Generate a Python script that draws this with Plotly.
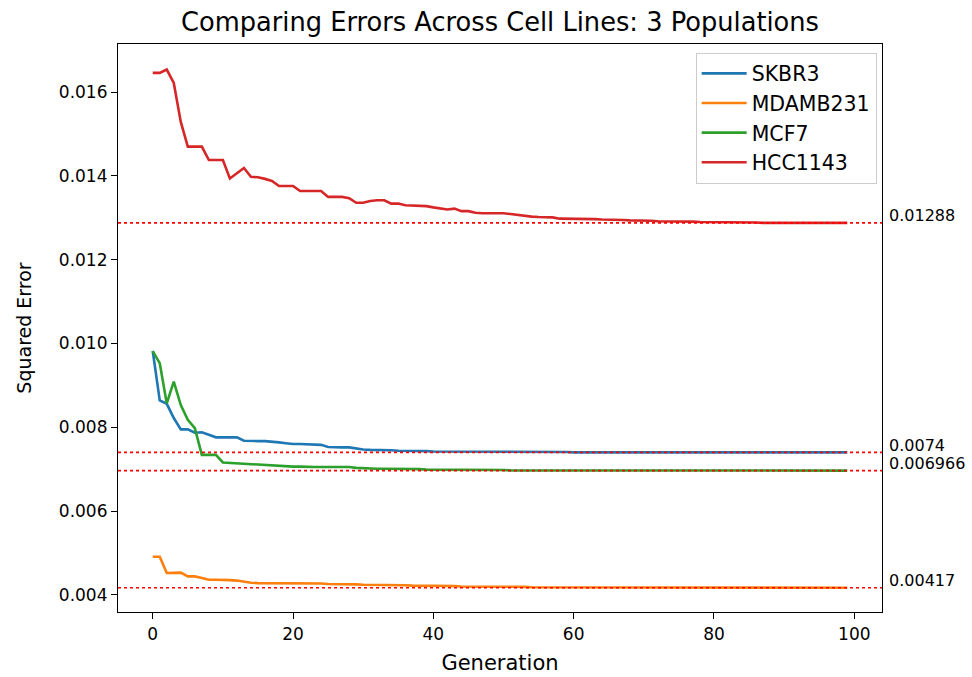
import plotly.graph_objects as go

generations = list(range(100))

skbr3 = [
    0.00982, 0.00864, 0.00856, 0.00822, 0.00795, 0.00795, 0.00787, 0.00788, 0.00782, 0.00776,
    0.00776, 0.00776, 0.00776, 0.00768, 0.00767, 0.00767, 0.00767, 0.00766, 0.00764, 0.00762,
    0.00760, 0.00760, 0.00759, 0.00758, 0.00758, 0.00753, 0.00752, 0.00752, 0.00752, 0.00749,
    0.00747, 0.00746, 0.00746, 0.00745, 0.00745, 0.00744, 0.00744, 0.00743, 0.00743, 0.00743,
    0.00742, 0.00742, 0.00742, 0.00742, 0.00742, 0.00741, 0.00741, 0.00741, 0.00741, 0.00741,
    0.00741, 0.00741, 0.00741, 0.00741, 0.00741, 0.00741, 0.00741, 0.00741, 0.00741, 0.00741,
    0.00740, 0.00740, 0.00740, 0.00740, 0.00740, 0.00740, 0.00740, 0.00740, 0.00740, 0.00740,
    0.00740, 0.00740, 0.00740, 0.00740, 0.00740, 0.00740, 0.00740, 0.00740, 0.00740, 0.00740,
    0.00740, 0.00740, 0.00740, 0.00740, 0.00740, 0.00740, 0.00740, 0.00740, 0.00740, 0.00740,
    0.00740, 0.00740, 0.00740, 0.00740, 0.00740, 0.00740, 0.00740, 0.00740, 0.00740, 0.00740,
]

mdamb231 = [
    0.00491, 0.00491, 0.00452, 0.00452, 0.00453, 0.00444, 0.00444, 0.00440, 0.00436, 0.00436,
    0.00436, 0.00435, 0.00434, 0.00431, 0.00429, 0.00428, 0.00428, 0.00428, 0.00428, 0.00428,
    0.00428, 0.00427, 0.00427, 0.00427, 0.00427, 0.00426, 0.00426, 0.00426, 0.00425, 0.00425,
    0.00424, 0.00424, 0.00424, 0.00423, 0.00423, 0.00423, 0.00423, 0.00422, 0.00422, 0.00422,
    0.00421, 0.00421, 0.00421, 0.00421, 0.00420, 0.00420, 0.00420, 0.00419, 0.00419, 0.00419,
    0.00419, 0.00419, 0.00419, 0.00419, 0.00418, 0.00418, 0.00418, 0.00418, 0.00418, 0.00418,
    0.00418, 0.00418, 0.00418, 0.00418, 0.00418, 0.00418, 0.00418, 0.00418, 0.00418, 0.00418,
    0.00417, 0.00417, 0.00417, 0.00417, 0.00417, 0.00417, 0.00417, 0.00417, 0.00417, 0.00417,
    0.00417, 0.00417, 0.00417, 0.00417, 0.00417, 0.00417, 0.00417, 0.00417, 0.00417, 0.00417,
    0.00417, 0.00417, 0.00417, 0.00417, 0.00417, 0.00417, 0.00417, 0.00417, 0.00417, 0.00417,
]

mcf7 = [
    0.00982, 0.00953, 0.00857, 0.00909, 0.00853, 0.00818, 0.00798, 0.00734, 0.00734, 0.00734,
    0.00716, 0.00715, 0.00714, 0.00712, 0.00711, 0.00710, 0.00709, 0.00708, 0.00707, 0.00707,
    0.00706, 0.00706, 0.00705, 0.00705, 0.00705, 0.00705, 0.00705, 0.00705, 0.00705, 0.00703,
    0.00702, 0.00702, 0.00701, 0.00701, 0.00701, 0.00700, 0.00700, 0.00700, 0.00700, 0.00699,
    0.00699, 0.00699, 0.00699, 0.00699, 0.00698, 0.00698, 0.00698, 0.00698, 0.00698, 0.00698,
    0.00698, 0.00697, 0.00697, 0.00697, 0.00697, 0.00697, 0.00697, 0.00697, 0.00697, 0.00697,
    0.006966, 0.006966, 0.006966, 0.006966, 0.006966, 0.006966, 0.006966, 0.006966, 0.006966, 0.006966,
    0.006966, 0.006966, 0.006966, 0.006966, 0.006966, 0.006966, 0.006966, 0.006966, 0.006966, 0.006966,
    0.006966, 0.006966, 0.006966, 0.006966, 0.006966, 0.006966, 0.006966, 0.006966, 0.006966, 0.006966,
    0.006966, 0.006966, 0.006966, 0.006966, 0.006966, 0.006966, 0.006966, 0.006966, 0.006966, 0.006966,
]

hcc1143 = [
    0.01646, 0.01646, 0.01654, 0.01622, 0.01529, 0.01470, 0.01470, 0.01470, 0.01438, 0.01438,
    0.01438, 0.01394, 0.01406, 0.01419, 0.01398, 0.01397, 0.01393, 0.01388, 0.01376, 0.01376,
    0.01376, 0.01364, 0.01364, 0.01364, 0.01364, 0.01350, 0.01350, 0.01350, 0.01347, 0.01336,
    0.01336, 0.01340, 0.01342, 0.01342, 0.01334, 0.01334, 0.01330, 0.01329, 0.01328, 0.01328,
    0.01325, 0.01323, 0.01320, 0.01322, 0.01316, 0.01316, 0.01312, 0.01311, 0.01311, 0.01311,
    0.01311, 0.01309, 0.01307, 0.01304, 0.01303, 0.01302, 0.01301, 0.01301, 0.01298, 0.01298,
    0.01298, 0.01298, 0.01298, 0.01297, 0.01296, 0.01296, 0.01295, 0.01295, 0.01294, 0.01294,
    0.01293, 0.01293, 0.01292, 0.01292, 0.01292, 0.01291, 0.01291, 0.01291, 0.01290, 0.01290,
    0.01290, 0.01290, 0.01289, 0.01289, 0.01289, 0.01289, 0.01289, 0.01288, 0.01288, 0.01288,
    0.01288, 0.01288, 0.01288, 0.01288, 0.01288, 0.01288, 0.01288, 0.01288, 0.01288, 0.01288,
]

series_names = ["SKBR3", "MDAMB231", "MCF7", "HCC1143"]
series_values = [skbr3, mdamb231, mcf7, hcc1143]
series_colors = ["#1f77b4", "#ff7f0e", "#2ca02c", "#d62728"]

min_values = [0.01288, 0.0074, 0.006966, 0.00417]
min_labels = ["0.01288", "0.0074", "0.006966", "0.00417"]

x_ticks = [0, 20, 40, 60, 80, 100]
y_ticks = [0.004, 0.006, 0.008, 0.010, 0.012, 0.014, 0.016]

FONT = "DejaVu Sans"

fig = go.Figure()
for name, vals, col in zip(series_names, series_values, series_colors):
    fig.add_trace(go.Scatter(x=generations, y=vals, mode="lines", name=name,
                             line=dict(color=col, width=2.6)))

for v, lab in zip(min_values, min_labels):
    fig.add_shape(type="line", xref="paper", x0=0, x1=1, yref="y", y0=v, y1=v,
                  line=dict(color="red", width=1.6, dash="dot"), layer="above")
    fig.add_annotation(xref="paper", x=1, yref="y", y=v, text=lab, showarrow=False,
                       xanchor="left", yanchor="middle", xshift=5, yshift=7,
                       font=dict(family=FONT, size=16, color="black"))

axis_common = dict(showline=True, linecolor="black", linewidth=1.2, mirror=True,
                   ticks="outside", ticklen=6, tickwidth=1.2, tickcolor="black",
                   showgrid=False, zeroline=False, automargin=False,
                   tickfont=dict(family=FONT, size=17, color="black"))

fig.update_layout(
    width=972, height=677,
    margin=dict(l=118, r=90, t=44, b=65),
    paper_bgcolor="white", plot_bgcolor="white",
    title=dict(text="Comparing Errors Across Cell Lines: 3 Populations",
               x=0.5, xref="paper", y=1 - 22 / 677, yref="container",
               xanchor="center", yanchor="middle",
               font=dict(family=FONT, size=25.7, color="black")),
    xaxis=dict(range=[-4.95, 103.95], tickvals=x_ticks,
               title=dict(text="Generation", font=dict(family=FONT, size=21, color="black"), standoff=12),
               **axis_common),
    yaxis=dict(range=[0.00359, 0.01715], tickvals=y_ticks, tickformat=".3f",
               title=dict(text="Squared Error", font=dict(family=FONT, size=19, color="black"), standoff=22),
               **axis_common),
    legend=dict(x=0.993, y=0.985, xanchor="right", yanchor="top",
                bgcolor="white", bordercolor="#cccccc", borderwidth=1,
                font=dict(family=FONT, size=20.5, color="black"),
                tracegroupgap=0, itemwidth=45),
    showlegend=True,
)

fig.write_html("out.html")
